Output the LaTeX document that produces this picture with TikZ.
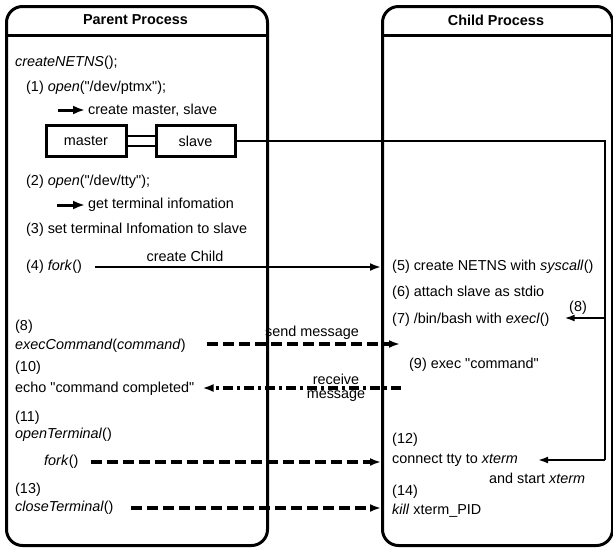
\documentclass[tikz,border=0pt]{standalone}
\usepackage{fontspec}
\setmainfont{Liberation Sans}
\usetikzlibrary{arrows.meta}
\newcommand{\qq}{\textquotedbl}
\begin{document}
\begin{tikzpicture}[x=1pt,y=-1pt,
  font=\fontsize{14.4}{16}\selectfont,
  txt/.style={anchor=west, inner sep=0pt},
  lbl/.style={inner sep=0pt},
  proc/.style={draw, line width=3pt, rounded corners=16pt, anchor=north west},
  regbox/.style={draw, line width=3pt, minimum height=31pt, inner sep=0pt},
  tip/.style={-{Latex[length=11pt,width=8pt]}},
  smalltip/.style={-{Latex[length=10pt,width=7pt]}},
  solidc/.style={tip, line width=2.5pt},
  thickc/.style={-{Latex[length=12pt,width=9pt]}, line width=3pt},
  dashc/.style={tip, line width=3.2pt, dash pattern=on 11pt off 5pt},
  dotc/.style={tip, line width=3.2pt, dash pattern=on 10pt off 4pt on 3pt off 4pt},
  wire/.style={line width=1.8pt}]
\useasboundingbox (0,0) rectangle (613,550);
% process boxes
\node[proc, minimum width=261pt, minimum height=539pt] (parent) at (5,5) {};
\node[proc, minimum width=230pt, minimum height=539pt] (child) at (381,5) {};
\draw[line width=3pt] ([yshift=-30pt]parent.north west) -- ([yshift=-30pt]parent.north east);
\draw[line width=3pt] ([yshift=-30pt]child.north west) -- ([yshift=-30pt]child.north east);
\node[lbl, font=\fontsize{14.4}{16}\selectfont\bfseries] (ph) at (135.5,20) {Parent Process};
\node[lbl, font=\fontsize{14.4}{16}\selectfont\bfseries] (chh) at (496,20) {Child Process};
% parent texts
\node[txt] (cn) at (15,63) {\textit{createNETNS}();};
\node[txt] (o1) at (26,88) {(1) \textit{open}(\qq/dev/ptmx\qq);};
\coordinate (a1) at (58,110);
\node[txt] (cm) at (88,110) {create master, slave};
\draw[thickc, shorten >=3pt] (a1) -- (cm.west);
\node[regbox, minimum width=80pt] (master) at (86,141) {master};
\node[regbox, minimum width=79pt] (slave) at (195.5,141) {slave};
\draw[wire] ([yshift=5pt]master.east) -- ([yshift=5pt]slave.west);
\draw[wire] ([yshift=-5pt]master.east) -- ([yshift=-5pt]slave.west);
\node[txt] (o2) at (26,182) {(2) \textit{open}(\qq/dev/tty\qq);};
\coordinate (a2) at (57,205);
\node[txt] (gt) at (88,205) {get terminal infomation};
\draw[thickc, shorten >=3pt] (a2) -- (gt.west);
\node[txt] (s3) at (26,230) {(3) set terminal Infomation to slave};
\node[txt] (f4) at (26,267) {(4) \textit{fork}()};
\node[lbl] (cc) at (185,256) {create Child};
\node[txt] (e8) at (15,327) {(8)};
\node[txt] (ec) at (15,346) {\textit{execCommand}(\textit{command})};
\node[txt] (t10) at (15,368) {(10)};
\node[txt] (echo) at (15,389) {echo \qq command completed\qq};
\node[lbl] (sm) at (312,333) {send message};
\node[lbl] (rv) at (336,379) {receive};
\node[lbl] (rm) at (336,396) {message};
\node[txt] (t11) at (15,418) {(11)};
\node[txt] (ot) at (15,435) {\textit{openTerminal}()};
\node[txt] (fk) at (44,462) {\textit{fork}()};
\node[txt] (t13) at (15,490) {(13)};
\node[txt] (ct) at (15,508) {\textit{closeTerminal}()};
% child texts
\node[txt] (c5) at (392,267) {(5) create NETNS with \textit{syscall}()};
\node[txt] (c6) at (392,293) {(6) attach slave as stdio};
\node[txt] (c7) at (392,320) {(7) /bin/bash with \textit{execl}()};
\node[txt] (c9) at (409,365) {(9) exec \qq command\qq};
\node[txt] (c12) at (392,440) {(12)};
\node[txt] (ctt) at (392,460) {connect tty to \textit{xterm}};
\node[txt] (st) at (489,478) {and start \textit{xterm}};
\node[txt] (c14) at (392,492) {(14)};
\node[txt] (kl) at (392,511) {\textit{kill} xterm\_PID};
\node[lbl] (l8) at (578,308) {(8)};
% connectors
\coordinate (k1) at (605,141);
\coordinate (k2) at (605,318);
\coordinate (k3) at (605,460);
\draw[wire] (slave.east) -- (k1) -- (k3);
\draw[wire, smalltip] (k2) -- ([xshift=15pt]c7.east |- k2);
\draw[wire, smalltip] (k3) -- ([xshift=20pt]ctt.east);
\draw[solidc] ([xshift=13pt]f4.east) -- (child.west |- f4);
\draw[dashc] ([xshift=21pt]ec.east |- 0,344) -- ([xshift=19pt]child.west |- 0,344);
\draw[dotc] ([xshift=20pt]child.west |- 0,388) -- ([xshift=8pt]echo.east |- 0,388);
\draw[dashc] ([xshift=12pt]fk.east) -- (child.west |- fk);
\draw[dashc] ([xshift=17pt]ct.east) -- (child.west |- ct);
\end{tikzpicture}
\end{document}
